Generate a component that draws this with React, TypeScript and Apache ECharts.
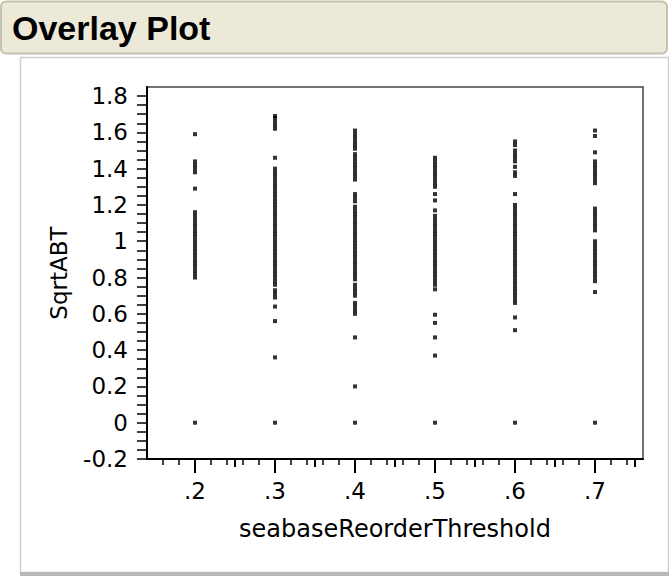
import React, { useEffect, useRef } from 'react';
import * as echarts from 'echarts';

// x categories (seabaseReorderThreshold)
const xCategories = [0.2, 0.3, 0.4, 0.5, 0.6, 0.7];

// SqrtABT values observed at each threshold
const sqrtAbtAt02 = [
  0, 0.80, 0.82, 0.84, 0.86, 0.88, 0.90, 0.92, 0.94, 0.96, 0.98, 1.00, 1.02, 1.04,
  1.06, 1.08, 1.10, 1.12, 1.14, 1.16, 1.29, 1.38, 1.40, 1.42, 1.44, 1.59,
];
const sqrtAbtAt03 = [
  0, 0.36, 0.56, 0.64, 0.69, 0.71, 0.73, 0.76, 0.78, 0.80, 0.82, 0.84, 0.86, 0.88,
  0.90, 0.92, 0.94, 0.96, 0.98, 1.00, 1.02, 1.04, 1.06, 1.08, 1.10, 1.12, 1.14, 1.16,
  1.18, 1.20, 1.22, 1.24, 1.26, 1.28, 1.30, 1.32, 1.34, 1.36, 1.38, 1.40, 1.46, 1.62,
  1.64, 1.66, 1.68, 1.69,
];
const sqrtAbtAt04 = [
  0, 0.20, 0.47, 0.60, 0.62, 0.64, 0.66, 0.70, 0.72, 0.74, 0.76, 0.79, 0.81, 0.83,
  0.85, 0.87, 0.89, 0.91, 0.93, 0.95, 0.97, 0.99, 1.01, 1.03, 1.05, 1.07, 1.09, 1.11,
  1.13, 1.15, 1.17, 1.19, 1.22, 1.24, 1.26, 1.34, 1.36, 1.38, 1.40, 1.42, 1.44, 1.46,
  1.48, 1.51, 1.53, 1.55, 1.57, 1.59, 1.61,
];
const sqrtAbtAt05 = [
  0, 0.37, 0.47, 0.55, 0.595, 0.735, 0.76, 0.78, 0.80, 0.82, 0.84, 0.86, 0.88, 0.90,
  0.92, 0.94, 0.96, 0.98, 1.00, 1.02, 1.04, 1.06, 1.08, 1.10, 1.12, 1.14, 1.17, 1.225,
  1.26, 1.30, 1.32, 1.34, 1.36, 1.38, 1.40, 1.42, 1.44, 1.46,
];
const sqrtAbtAt06 = [
  0, 0.51, 0.58, 0.66, 0.68, 0.70, 0.72, 0.74, 0.76, 0.78, 0.80, 0.82, 0.84, 0.86,
  0.88, 0.90, 0.92, 0.94, 0.96, 0.98, 1.00, 1.02, 1.04, 1.06, 1.08, 1.10, 1.12, 1.14,
  1.16, 1.18, 1.20, 1.26, 1.36, 1.38, 1.41, 1.44, 1.46, 1.48, 1.50, 1.53, 1.55,
];
const sqrtAbtAt07 = [
  0, 0.72, 0.78, 0.80, 0.82, 0.84, 0.86, 0.88, 0.90, 0.92, 0.94, 0.96, 0.98, 1.00,
  1.06, 1.08, 1.10, 1.12, 1.14, 1.16, 1.18, 1.32, 1.34, 1.36, 1.38, 1.40, 1.42, 1.44,
  1.49, 1.58, 1.61,
];
const seriesByCategory = [sqrtAbtAt02, sqrtAbtAt03, sqrtAbtAt04, sqrtAbtAt05, sqrtAbtAt06, sqrtAbtAt07];

// axis ticks and labels
const yLabelValues = [-0.2, 0, 0.2, 0.4, 0.6, 0.8, 1, 1.2, 1.4, 1.6, 1.8];
const yTickValues = [
  -0.2, -0.15, -0.1, -0.05, 0, 0.05, 0.1, 0.15, 0.2, 0.25, 0.3, 0.35, 0.4, 0.45, 0.5,
  0.55, 0.6, 0.65, 0.7, 0.75, 0.8, 0.85, 0.9, 0.95, 1, 1.05, 1.1, 1.15, 1.2, 1.25, 1.3,
  1.35, 1.4, 1.45, 1.5, 1.55, 1.6, 1.65, 1.7, 1.75, 1.8,
];
const xLabelValues = [0.2, 0.3, 0.4, 0.5, 0.6, 0.7];
const xMinorTickValues = [
  0.16, 0.18, 0.2, 0.22, 0.24, 0.26, 0.28, 0.3, 0.32, 0.34, 0.36, 0.38, 0.4, 0.42, 0.44,
  0.46, 0.48, 0.5, 0.52, 0.54, 0.56, 0.58, 0.6, 0.62, 0.64, 0.66, 0.68, 0.7, 0.72, 0.74,
];
const xMidTickValues = [0.25, 0.35, 0.45, 0.55, 0.65, 0.75];

const FONT = 'DejaVu Sans';

export default function App() {
  const ref = useRef<HTMLDivElement>(null);

  useEffect(() => {
    document.body.style.margin = '0';
    const chart = echarts.init(ref.current as HTMLDivElement, null, { renderer: 'svg' });

    const points: number[][] = [];
    xCategories.forEach((x, i) => {
      seriesByCategory[i].forEach((y) => points.push([x, y]));
    });

    const xMin = 0.14;
    const xMax = 0.76;

    chart.setOption({
      animation: false,
      backgroundColor: '#ffffff',
      graphic: [
        {
          type: 'rect',
          z: -10,
          silent: true,
          shape: { x: 20.5, y: 57.5, width: 648, height: 515 },
          style: { fill: '#ffffff', stroke: '#cfcfcf', lineWidth: 1.5 },
        },
        {
          type: 'rect',
          z: -9,
          silent: true,
          shape: { x: 20, y: 572, width: 649, height: 4 },
          style: { fill: '#b8b8b8' },
        },
        {
          type: 'rect',
          z: -9,
          silent: true,
          shape: { x: 1, y: 1.5, width: 666, height: 52, r: 5 },
          style: { fill: '#ECE9D8', stroke: '#c4c1ae', lineWidth: 2 },
        },
        {
          type: 'text',
          z: 10,
          x: 12,
          y: 28,
          style: {
            text: 'Overlay Plot',
            font: 'bold 34px "Liberation Sans", Arial, sans-serif',
            fill: '#000000',
            textVerticalAlign: 'middle',
            verticalAlign: 'middle',
          },
        },
      ],
      grid: {
        left: 147,
        top: 87,
        right: 26,
        bottom: 123,
        show: true,
        borderColor: '#444444',
        borderWidth: 1.5,
        backgroundColor: 'transparent',
      },
      xAxis: [
        {
          type: 'value',
          min: xMin,
          max: xMax,
          position: 'bottom',
          name: 'seabaseReorderThreshold',
          nameLocation: 'middle',
          nameGap: 58,
          nameTextStyle: { fontFamily: FONT, fontSize: 24, color: '#000' },
          axisLine: { show: true, onZero: false, lineStyle: { color: '#000', width: 2 } },
          axisTick: {
            show: true,
            inside: false,
            length: 6,
            customValues: xMinorTickValues,
            lineStyle: { color: '#000', width: 1.5 },
          },
          axisLabel: {
            show: true,
            margin: 20,
            customValues: xLabelValues,
            fontFamily: FONT,
            fontSize: 23,
            color: '#000',
            formatter: (v: number) => {
              const s = String(v);
              return s.startsWith('0.') ? s.slice(1) : s;
            },
          },
          splitLine: { show: false },
        },
        {
          type: 'value',
          min: xMin,
          max: xMax,
          position: 'bottom',
          axisLine: { show: false, onZero: false },
          axisTick: {
            show: true,
            inside: false,
            length: 14,
            customValues: xLabelValues,
            lineStyle: { color: '#000', width: 2 },
          },
          axisLabel: { show: false },
          splitLine: { show: false },
        },
        {
          type: 'value',
          min: xMin,
          max: xMax,
          position: 'bottom',
          axisLine: { show: false, onZero: false },
          axisTick: {
            show: true,
            inside: false,
            length: 8,
            customValues: xMidTickValues,
            lineStyle: { color: '#000', width: 2 },
          },
          axisLabel: { show: false },
          splitLine: { show: false },
        },
      ],
      yAxis: {
        type: 'value',
        min: -0.2,
        max: 1.85,
        name: 'SqrtABT',
        nameLocation: 'middle',
        nameGap: 77,
        nameRotate: 90,
        nameTextStyle: { fontFamily: FONT, fontSize: 23, color: '#000' },
        axisLine: { show: true, onZero: false, lineStyle: { color: '#000', width: 2 } },
        axisTick: {
          show: true,
          inside: false,
          length: 10,
          customValues: yTickValues,
          lineStyle: { color: '#000', width: 1.5 },
        },
        axisLabel: {
          show: true,
          margin: 19,
          customValues: yLabelValues,
          fontFamily: FONT,
          fontSize: 23,
          color: '#000',
        },
        splitLine: { show: false },
      },
      series: [
        {
          type: 'scatter',
          xAxisIndex: 0,
          yAxisIndex: 0,
          symbol: 'rect',
          symbolSize: [4, 4],
          itemStyle: { color: '#000000' },
          data: points,
          z: 5,
        },
      ],
    });

    return () => chart.dispose();
  }, []);

  return <div ref={ref} style={{ width: 669, height: 582 }} />;
}
